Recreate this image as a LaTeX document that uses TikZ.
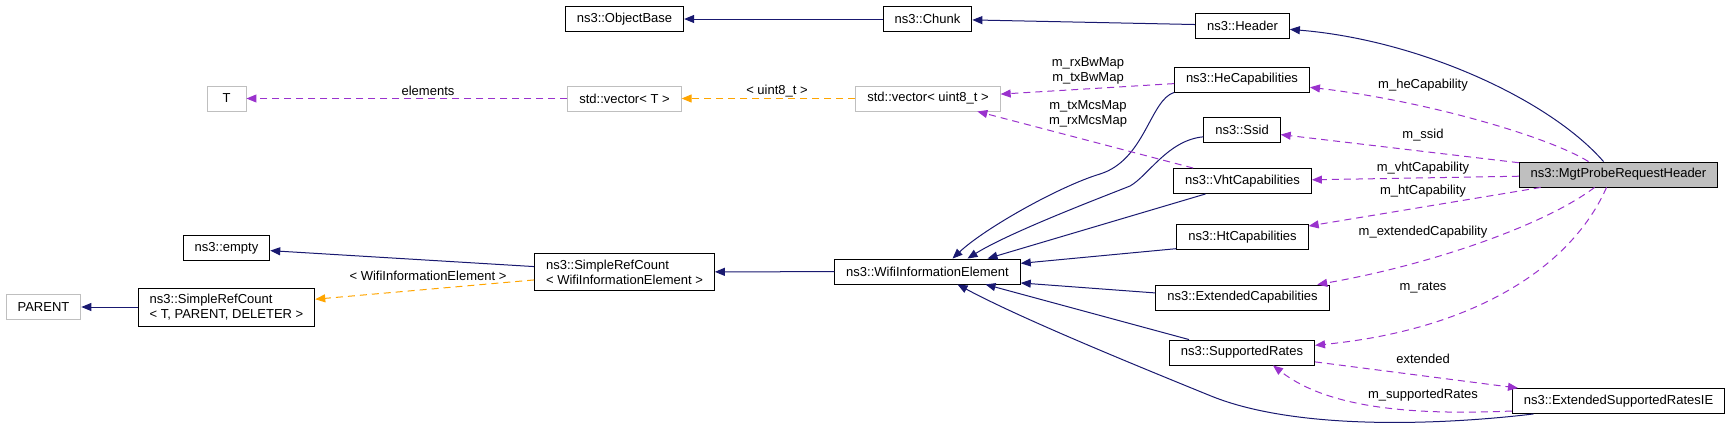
\documentclass[tikz,border=0pt]{standalone}
\usepackage{fontspec}
\setmainfont{Liberation Sans}
\usetikzlibrary{positioning}
\usetikzlibrary{arrows.meta}
\definecolor{navyline}{HTML}{191970}
\definecolor{usecolor}{HTML}{9A32CD}
\definecolor{tplcolor}{HTML}{FFA500}
\definecolor{boxgray}{HTML}{BFBFBF}
\newcommand{\dxfont}{\fontsize{13}{15}\selectfont}
\tikzset{
    classbox/.style = {rectangle, draw=black, line width=0.9pt, fill=white, minimum height=25pt, inner xsep=11.5pt, inner ysep=6pt, align=left, font=\dxfont},
    classboxg/.style = {classbox, draw=boxgray}, % undocumented
    classboxh/.style = {classbox, fill=boxgray}, % this class
    lbl/.style = {font=\dxfont, align=center, inner sep=0pt},
    edgei/.style = {-{Triangle[length=10pt,width=8pt]}, line width=1pt, draw=navyline}, % base class
    edgeu/.style = {-{Triangle[length=10pt,width=8pt]}, line width=1pt, draw=usecolor, dash pattern=on 7pt off 5pt}, % member
    edget/.style = {-{Triangle[length=10pt,width=8pt]}, line width=1pt, draw=tplcolor, dash pattern=on 7pt off 5pt} % template
}

\begin{document}
\begin{tikzpicture}[x=1pt, y=-1pt]
\useasboundingbox (0,0) rectangle (1731,429);
\node[classboxg] at (43.5, 307.0) (parent) {PARENT};
\node[classboxg, minimum width=39pt] at (226.5, 98.5) (tnode) {T};
\node[classbox] at (226.5, 248.0) (empty) {ns3::empty};
\node[classbox] at (226.5, 307.0) (srctpd) {ns3::SimpleRefCount\\< T, PARENT, DELETER >};
\node[classbox] at (624.5, 19.0) (objbase) {ns3::ObjectBase};
\node[classboxg] at (624.5, 98.5) (vect) {std::vector< T >};
\node[classbox] at (624.5, 272.0) (srcwie) {ns3::SimpleRefCount\\< WifiInformationElement >};
\node[classbox] at (927.5, 19.0) (chunk) {ns3::Chunk};
\node[classboxg] at (928.0, 98.5) (vecu) {std::vector< uint8\_t >};
\node[classbox] at (927.5, 271.5) (wie) {ns3::WifiInformationElement};
\node[classbox] at (1242.5, 25.5) (header) {ns3::Header};
\node[classbox] at (1242.0, 79.5) (hecap) {ns3::HeCapabilities};
\node[classbox] at (1242.0, 130.0) (ssid) {ns3::Ssid};
\node[classbox] at (1242.5, 181.0) (vht) {ns3::VhtCapabilities};
\node[classbox] at (1242.5, 237.0) (htcap) {ns3::HtCapabilities};
\node[classbox] at (1242.5, 297.5) (extcap) {ns3::ExtendedCapabilities};
\node[classbox] at (1242.0, 352.5) (suprates) {ns3::SupportedRates};
\node[classboxh] at (1618.5, 174.5) (mgt) {ns3::MgtProbeRequestHeader};
\node[classbox] at (1618.5, 401.0) (esrie) {ns3::ExtendedSupportedRatesIE};
%
\draw[edgei] (chunk) -- (objbase);
\draw[edgei] (header) -- (chunk);
\draw[edgei] ([xshift=-15pt]mgt.north) .. controls (1550,100) and (1420,40) .. (header);
\draw[edgei] (hecap.south west) .. controls (1150,100) and (1145,160) .. (1100,174)
    .. controls (1060,186) and (985,228) .. ([xshift=25pt]wie.north);
\draw[edgei] (ssid.190) .. controls (1168,140) and (1148,176) .. (1130,186)
    .. controls (1105,196) and (1010,232) .. ([xshift=40pt]wie.north);
\draw[edgei] ([xshift=-37pt]vht.south) -- ([xshift=60pt]wie.north);
\draw[edgei] (htcap.190) -- (wie.5);
\draw[edgei] (extcap.177) -- (wie.-7);
\draw[edgei] ([xshift=-53pt]suprates.north) -- ([xshift=58pt]wie.south);
\draw[edgei] ([xshift=-85pt]esrie.south) .. controls (1450,424) and (1300,432) .. (1211,396)
    .. controls (1130,363) and (1020,318) .. ([xshift=30pt]wie.south);
\draw[edgei] (wie) -- (srcwie);
\draw[edgei] (srcwie) -- (empty);
\draw[edgei] (srctpd) -- (parent);
%
\draw[edget] (srcwie) -- (srctpd) node[lbl] at (428,276) {< WifiInformationElement >};
\draw[edget] (vecu) -- (vect) node[lbl] at (777,91) {< uint8\_t >};
%
\draw[edgeu] (vect) -- (tnode) node[lbl] at (428,91) {elements};
\draw[edgeu] (hecap) -- (vecu) node[lbl] at (1088,71) {m\_rxBwMap\\m\_txBwMap};
\draw[edgeu] (vht) -- (vecu) node[lbl] at (1088,114) {m\_txMcsMap\\m\_rxMcsMap};
\draw[edgeu] ([xshift=-30pt]mgt.north) .. controls (1545,135) and (1420,100) .. (hecap) node[lbl] at (1423,85) {m\_heCapability};
\draw[edgeu] (mgt) -- (ssid) node[lbl] at (1423,135) {m\_ssid};
\draw[edgeu] (mgt) -- (vht) node[lbl] at (1423,168) {m\_vhtCapability};
\draw[edgeu] (mgt) -- (htcap) node[lbl] at (1423,191) {m\_htCapability};
\draw[edgeu] ([xshift=-24pt]mgt.south) .. controls (1545,225) and (1430,265) .. (extcap) node[lbl] at (1423,232) {m\_extendedCapability};
\draw[edgeu] ([xshift=-12pt]mgt.south) .. controls (1570,270) and (1470,330) .. (suprates) node[lbl] at (1423,288) {m\_rates};
\draw[edgeu] (suprates) -- (esrie) node[lbl] at (1423,359) {extended};
\draw[edgeu] ([yshift=-10pt]esrie.west) .. controls (1420,415) and (1330,410) .. ([xshift=31pt]suprates.south) node[lbl] at (1423,395) {m\_supportedRates};
\end{tikzpicture}
\end{document}
